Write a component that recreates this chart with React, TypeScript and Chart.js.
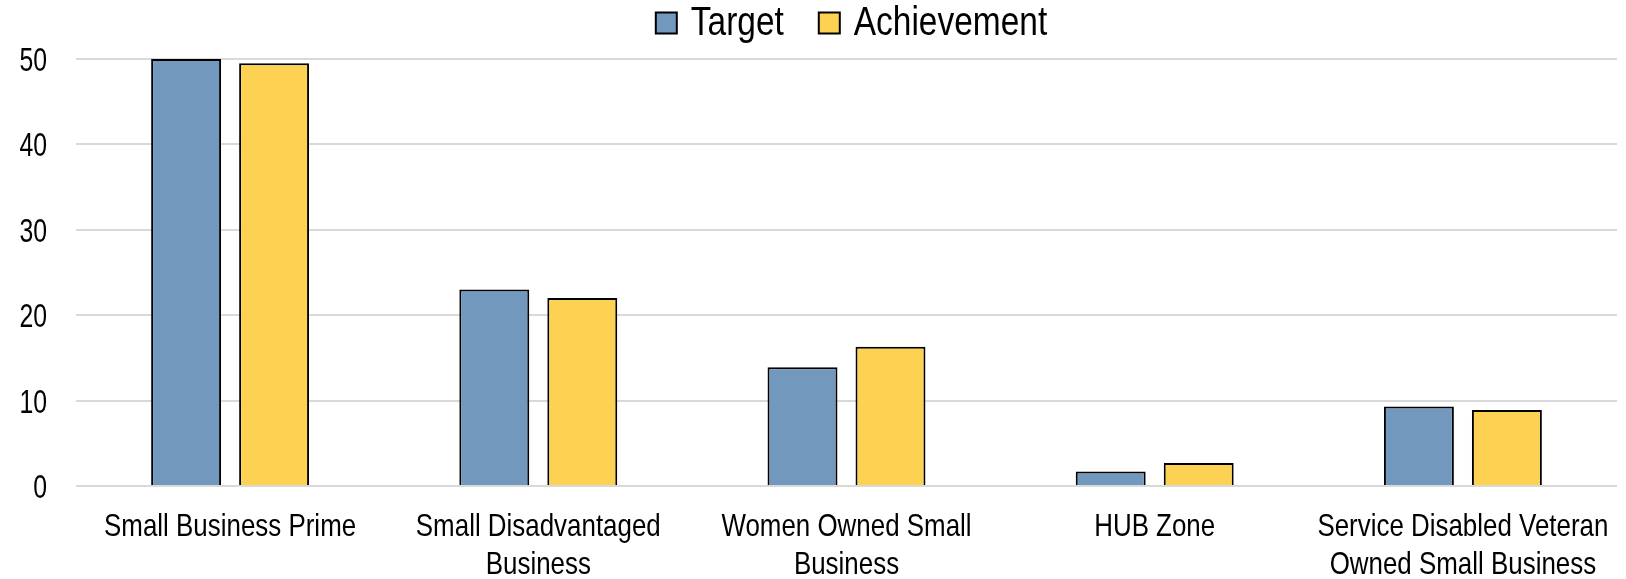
import React, { useEffect, useRef } from "react";
import { Chart, registerables } from "chart.js";

Chart.register(...registerables);

const categories: string[][] = [
  ["Small Business Prime"],
  ["Small Disadvantaged", "Business"],
  ["Women Owned Small", "Business"],
  ["HUB Zone"],
  ["Service Disabled Veteran", "Owned Small Business"],
];
const seriesNames = ["Target", "Achievement"];
const targetValues = [50, 23, 13.9, 1.7, 9.3];
const achievementValues = [49.5, 22, 16.3, 2.7, 8.9];
const yTicks = [0, 10, 20, 30, 40, 50];

const FONT = "'Liberation Sans', Arial, sans-serif";
const COLORS = ["#7299BD", "#FDD253"];

function drawText(
  ctx: CanvasRenderingContext2D,
  text: string,
  x: number,
  y: number,
  size: number,
  sx: number,
  align: CanvasTextAlign
) {
  ctx.save();
  ctx.font = `${size}px ${FONT}`;
  ctx.fillStyle = "#000000";
  ctx.textBaseline = "alphabetic";
  ctx.textAlign = align;
  ctx.translate(x, y);
  ctx.scale(sx, 1);
  ctx.fillText(text, 0, 0);
  ctx.restore();
}

const textPlugin = {
  id: "narrowText",
  afterDraw(chart: any) {
    const ctx: CanvasRenderingContext2D = chart.ctx;
    const xs = chart.scales.x;
    const ys = chart.scales.y;
    const area = chart.chartArea;

    // y tick labels
    yTicks.forEach((v) => {
      drawText(ctx, String(v), 47, ys.getPixelForValue(v) + 12, 33.5, 0.74, "right");
    });

    // x category labels
    (chart.data.labels as string[][]).forEach((lines, i) => {
      const cx = xs.getPixelForValue(i);
      lines.forEach((line, j) => {
        drawText(ctx, line, cx, 536 + j * 38, 32, 0.81, "center");
      });
    });

    // legend
    const size = 41;
    const sx = 0.816;
    const box = 21;
    const gap = 14;
    const spacing = 35;
    ctx.save();
    ctx.font = `${size}px ${FONT}`;
    const items = chart.data.datasets.map((ds: any) => ({
      label: ds.label as string,
      color: ds.backgroundColor as string,
      w: ctx.measureText(ds.label).width * sx,
    }));
    ctx.restore();
    const total =
      items.reduce((s: number, it: any) => s + box + gap + it.w, 0) + spacing * (items.length - 1);
    let x = (area.left + area.right) / 2 + 5 - total / 2;
    items.forEach((it: any) => {
      ctx.save();
      ctx.fillStyle = it.color;
      ctx.fillRect(x, 12.5, box, box);
      ctx.strokeStyle = "#000000";
      ctx.lineWidth = 2;
      ctx.strokeRect(x, 12.5, box, box);
      ctx.restore();
      drawText(ctx, it.label, x + box + gap, 35, size, sx, "left");
      x += box + gap + it.w + spacing;
    });
  },
};

export default function App() {
  const ref = useRef<HTMLCanvasElement | null>(null);
  useEffect(() => {
    document.body.style.margin = "0";
    const ctx = ref.current!;
    const chart = new Chart(ctx, {
      type: "bar",
      data: {
        labels: categories,
        datasets: [
          {
            label: seriesNames[0],
            data: targetValues,
            backgroundColor: COLORS[0],
            borderColor: "#000000",
            borderWidth: 2,
            barPercentage: 0.795,
            categoryPercentage: 0.571,
          },
          {
            label: seriesNames[1],
            data: achievementValues,
            backgroundColor: COLORS[1],
            borderColor: "#000000",
            borderWidth: 2,
            barPercentage: 0.795,
            categoryPercentage: 0.571,
          },
        ],
      },
      plugins: [textPlugin],
      options: {
        responsive: false,
        animation: false,
        layout: { padding: { left: 0, right: 9, top: 59, bottom: 93 } },
        plugins: {
          tooltip: { enabled: false },
          legend: { display: false },
        },
        scales: {
          x: {
            grid: { display: false, drawTicks: false },
            border: { display: false },
            ticks: { display: false },
            afterFit: (axis: any) => {
              axis.height = 0;
            },
          },
          y: {
            min: 0,
            max: 50,
            afterBuildTicks: (axis: any) => {
              axis.ticks = yTicks.map((v) => ({ value: v }));
            },
            grid: { color: "#D9D9D9", lineWidth: 2, drawTicks: false },
            border: { display: false },
            ticks: { display: false },
            afterFit: (axis: any) => {
              axis.width = 76;
            },
          },
        },
      },
    });
    return () => chart.destroy();
  }, []);
  return (
    <div style={{ width: 1626, height: 579 }}>
      <canvas ref={ref} width={1626} height={579} style={{ display: "block" }} />
    </div>
  );
}
